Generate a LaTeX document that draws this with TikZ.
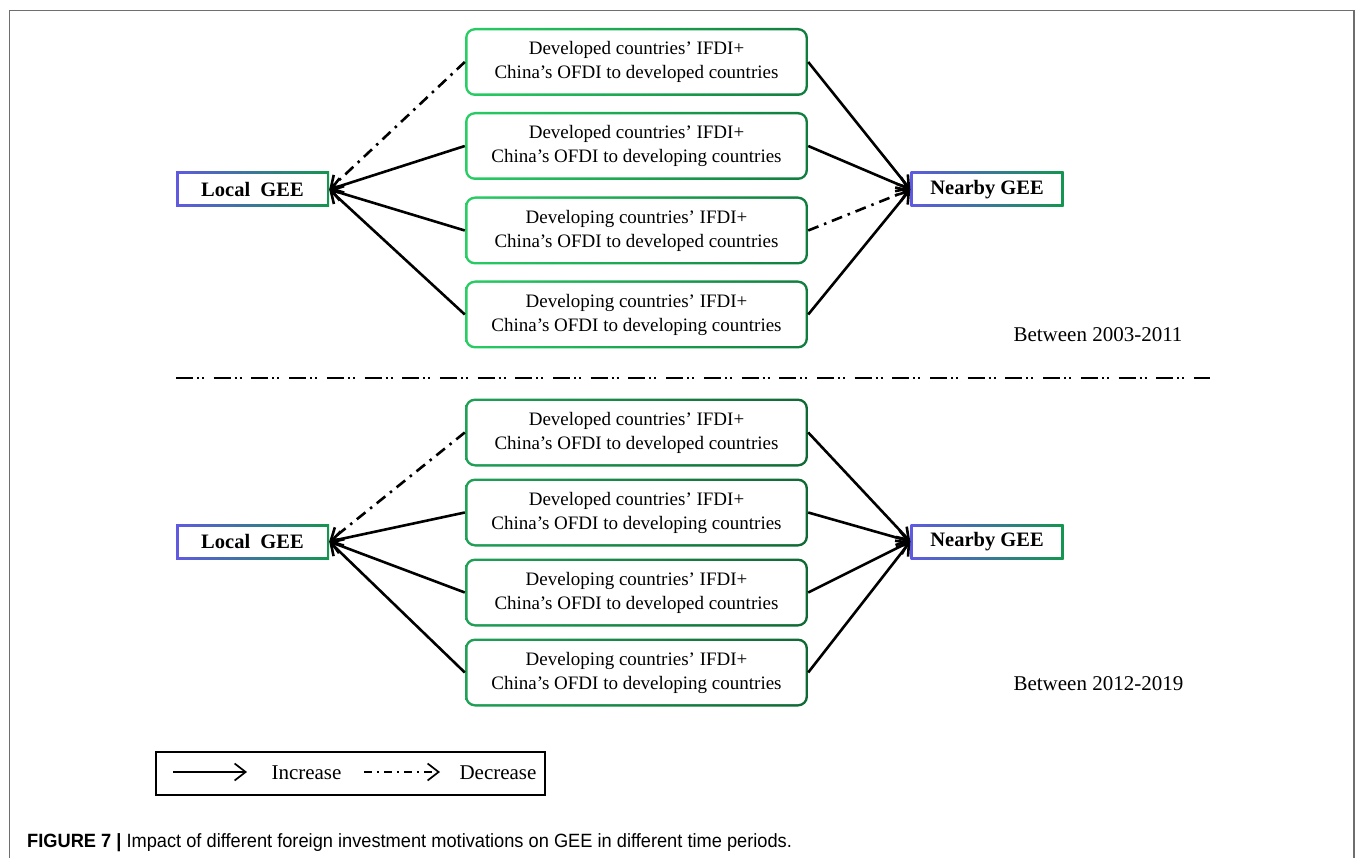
\documentclass[tikz,border=0pt]{standalone}
\usepackage{fontspec}
\setmainfont{Liberation Serif}
\newfontfamily\capfont[FakeStretch=0.95]{Liberation Sans}
\usetikzlibrary{arrows.meta}
\definecolor{gA}{RGB}{40,205,100}
\definecolor{gB}{RGB}{16,125,62}
\definecolor{hA}{RGB}{30,160,85}
\definecolor{hB}{RGB}{15,105,52}
\definecolor{bA}{RGB}{95,90,225}
\definecolor{bB}{RGB}{20,150,80}
\definecolor{framec}{RGB}{110,110,110}
\tikzset{
  gradbox/.style n args={3}{draw=none,
    path picture={
      \shade[left color=#1,right color=#2] (path picture bounding box.south west) rectangle (path picture bounding box.north east);
      \fill[white,#3] ([shift={(2.5pt,2.5pt)}]path picture bounding box.south west) rectangle ([shift={(-2.5pt,-2.5pt)}]path picture bounding box.north east);
    }},
  fdibase/.style={rounded corners=10pt, minimum width=343pt, minimum height=68pt,
    align=center, inner sep=0pt, font=\fontsize{19}{24}\selectfont},
  fdi/.style={fdibase, gradbox={gA}{gB}{rounded corners=7.5pt}},
  fdidark/.style={fdibase, gradbox={hA}{hB}{rounded corners=7.5pt}},
  gee/.style={gradbox={bA}{bB}{sharp corners}, sharp corners, minimum width=153pt,
    minimum height=35pt, inner sep=0pt, font=\bfseries\fontsize{20.5}{24}\selectfont},
  inc/.style={-{Straight Barb[length=11pt,width=15pt]}, line width=2.6pt},
  dec/.style={inc, dash pattern=on 11pt off 6pt on 2.5pt off 6pt},
  legarr/.style={-{Straight Barb[length=11pt,width=17pt]}, line width=1.7pt},
  legdec/.style={legarr, dash pattern=on 8pt off 5pt on 2pt off 5pt},
  period/.style={anchor=base west, font=\fontsize{21}{24}\selectfont},
  legtext/.style={anchor=base west, font=\fontsize{21}{24}\selectfont},
}
\begin{document}
\begin{tikzpicture}[x=1pt,y=-1pt]
\useasboundingbox (0,0) rectangle (1357,858);
% frame
\coordinate (f1) at (9.5,858);
\coordinate (f2) at (9.5,10.5);
\coordinate (f3) at (1354,10.5);
\coordinate (f4) at (1354,858);
\draw[framec, line width=1.3pt] (f1) -- (f2) -- (f3) -- (f4);

% top section
\node[fdi] (t1) at (636.5,62) {Developed countries’ IFDI+\\China’s OFDI to developed countries};
\node[fdi] (t2) at (636.5,146) {Developed countries’ IFDI+\\China’s OFDI to developing countries};
\node[fdi] (t3) at (636.5,230.5) {Developing countries’ IFDI+\\China’s OFDI to developed countries};
\node[fdi] (t4) at (636.5,314.5) {Developing countries’ IFDI+\\China’s OFDI to developing countries};
\node[gee] (L1) at (252.5,189.5) {Local~~GEE};
\node[gee] (N1) at (987,189.5) {Nearby GEE};
\draw[dec] (t1.west) -- (L1.east);
\draw[inc] (t2.west) -- (L1.east);
\draw[inc] (t3.west) -- (L1.east);
\draw[inc] (t4.west) -- (L1.east);
\draw[inc] (t1.east) -- (N1.west);
\draw[inc] (t2.east) -- (N1.west);
\draw[dec] (t3.east) -- (N1.west);
\draw[inc] (t4.east) -- (N1.west);
\node[period] (p1) at (1010,342) {Between 2003-2011};

% separator
\coordinate (s1) at (176,378);
\coordinate (s2) at (1210,378);
\draw[line width=2.8pt, dash pattern=on 17pt off 4pt on 2pt off 3pt on 2pt off 9.7pt] (s1) -- (s2);

% bottom section
\node[fdidark] (b1) at (636.5,432.5) {Developed countries’ IFDI+\\China’s OFDI to developed countries};
\node[fdidark] (b2) at (636.5,512.5) {Developed countries’ IFDI+\\China’s OFDI to developing countries};
\node[fdidark] (b3) at (636.5,592.5) {Developing countries’ IFDI+\\China’s OFDI to developed countries};
\node[fdidark] (b4) at (636.5,672.5) {Developing countries’ IFDI+\\China’s OFDI to developing countries};
\node[gee] (L2) at (252.5,541.5) {Local~~GEE};
\node[gee] (N2) at (987,541.5) {Nearby GEE};
\draw[dec] (b1.west) -- (L2.east);
\draw[inc] (b2.west) -- (L2.east);
\draw[inc] (b3.west) -- (L2.east);
\draw[inc] (b4.west) -- (L2.east);
\draw[inc] (b1.east) -- (N2.west);
\draw[inc] (b2.east) -- (N2.west);
\draw[inc] (b3.east) -- (N2.west);
\draw[inc] (b4.east) -- (N2.west);
\node[period] (p2) at (1010,690) {Between 2012-2019};

% legend
\node[draw, line width=1.6pt, minimum width=389pt, minimum height=43pt, inner sep=0pt] (leg) at (350.5,773.5) {};
\coordinate (la1) at (173,772);
\coordinate (la2) at (247,772);
\coordinate (lb1) at (364,772);
\coordinate (lb2) at (440,772);
\draw[legarr] (la1) -- (la2);
\draw[legdec] (lb1) -- (lb2);
\node[legtext] (inc) at (268,779) {Increase};
\node[legtext] (dec) at (456,779) {Decrease};

% caption
\node[anchor=base west, inner sep=0pt, font=\capfont\fontsize{19.2}{22}\selectfont] (cap) at (27,847)
  {\textbf{FIGURE 7 |} Impact of different foreign investment motivations on GEE in different time periods.};
\end{tikzpicture}
\end{document}
